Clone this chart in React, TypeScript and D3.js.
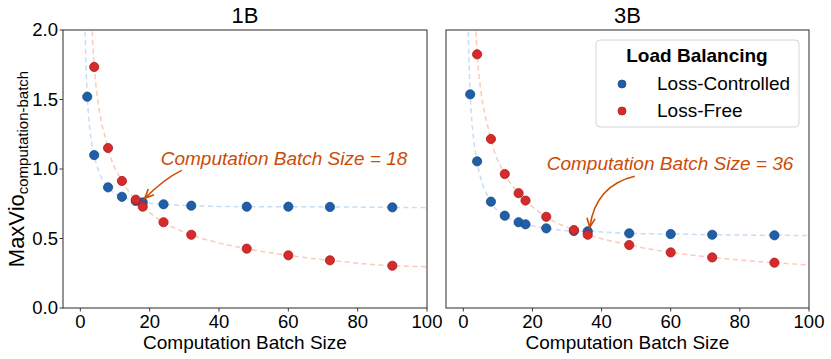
import React from "react";
import * as d3 from "d3";

const batchSizes1B = [2, 4, 8, 12, 16, 18, 24, 32, 48, 60, 72, 90];
const controlled1B = [1.52, 1.10, 0.868, 0.80, 0.77, 0.76, 0.746, 0.736, 0.729, 0.729, 0.727, 0.724];
const freeX1B = [4, 8, 12, 16, 18, 24, 32, 48, 60, 72, 90];
const free1B = [1.734, 1.151, 0.914, 0.779, 0.729, 0.617, 0.527, 0.427, 0.379, 0.343, 0.304];

const batchSizes3B = [2, 4, 8, 12, 16, 18, 24, 32, 36, 48, 60, 72, 90];
const controlled3B = [1.537, 1.055, 0.765, 0.664, 0.617, 0.602, 0.573, 0.554, 0.552, 0.537, 0.532, 0.527, 0.523];
const freeX3B = [4, 8, 12, 16, 18, 24, 32, 36, 48, 60, 72, 90];
const free3B = [1.825, 1.216, 0.964, 0.826, 0.773, 0.656, 0.561, 0.527, 0.453, 0.400, 0.364, 0.326];

// dashed fit-curve ends (where the curves leave the frame)
const fitEnds1B = { cStart: [1.3, 2.05], cEnd: [100, 0.722], fStart: [3.3, 2.05], fEnd: [100, 0.297] };
const fitEnds3B = { cStart: [1.4, 2.05], cEnd: [100, 0.522], fStart: [3.6, 2.05], fEnd: [100, 0.31] };

const xTicks = [0, 20, 40, 60, 80, 100];
const yTicks = [0, 0.5, 1.0, 1.5, 2.0];
const titles = ["1B", "3B"];
const annotations = [18, 36];

const BLUE = "#1f5fa8";
const BLUE_EDGE = "#164b87";
const RED = "#d62a2b";
const RED_EDGE = "#a81e20";
const BLUE_FIT = "#c5def3";
const RED_FIT = "#fcc9bb";
const ANNO = "#cc4c06";
const FONT = "'Liberation Sans', Arial, Helvetica, sans-serif";

const TOP = 30;
const BOTTOM = 308;

type Panel = {
  title: string;
  x0: number;
  x1: number;
  cx: number[];
  cy: number[];
  fx: number[];
  fy: number[];
  ends: typeof fitEnds1B;
  anno: number;
  showY: boolean;
  idx: number;
};

function PanelView({ p }: { p: Panel }) {
  const x = d3.scaleLinear().domain([-5, 100]).range([p.x0, p.x1]);
  const y = d3.scaleLinear().domain([0, 2]).range([BOTTOM, TOP]);
  const line = d3
    .line<[number, number]>()
    .x((d) => x(d[0]))
    .y((d) => y(d[1]))
    .curve(d3.curveMonotoneX);
  const cPts: [number, number][] = [
    p.ends.cStart as [number, number],
    ...p.cx.map((v, i) => [v, p.cy[i]] as [number, number]),
    p.ends.cEnd as [number, number],
  ];
  const fPts: [number, number][] = [
    p.ends.fStart as [number, number],
    ...p.fx.map((v, i) => [v, p.fy[i]] as [number, number]),
    p.ends.fEnd as [number, number],
  ];
  const clipId = `clip${p.idx}`;
  const cxm = (p.x0 + p.x1) / 2;

  // annotation geometry
  const ai = p.cx.indexOf(p.anno);
  const tipX = x(p.anno) + 2;
  const tipY = y(p.cy[ai]) - 4;
  let startX: number, startY: number, ctrlX: number, ctrlY: number, textX: number, textY: number;
  if (p.idx === 0) {
    startX = tipX + 37;
    startY = tipY - 28;
    ctrlX = tipX + 20;
    ctrlY = tipY - 20;
    textX = x(p.anno) + 18;
    textY = 165;
  } else {
    startX = tipX + 45;
    startY = tipY - 51;
    ctrlX = tipX + 6;
    ctrlY = tipY - 42;
    textX = x(p.anno) - 41;
    textY = 170;
  }
  // arrow head direction
  const ang = Math.atan2(tipY - ctrlY, tipX - ctrlX);
  const hl = 10;
  const ha = 0.42;
  const h1 = [tipX - hl * Math.cos(ang - ha), tipY - hl * Math.sin(ang - ha)];
  const h2 = [tipX - hl * Math.cos(ang + ha), tipY - hl * Math.sin(ang + ha)];

  return (
    <g>
      <defs>
        <clipPath id={clipId}>
          <rect x={p.x0} y={TOP} width={p.x1 - p.x0} height={BOTTOM - TOP} />
        </clipPath>
      </defs>
      <g clipPath={`url(#${clipId})`}>
        <path d={line(cPts) || ""} fill="none" stroke={BLUE_FIT} strokeWidth={1.5} strokeDasharray="5,3.5" />
        <path d={line(fPts) || ""} fill="none" stroke={RED_FIT} strokeWidth={1.5} strokeDasharray="5,3.5" />
        {p.cx.map((v, i) => (
          <circle key={"c" + i} cx={x(v)} cy={y(p.cy[i])} r={4.6} fill={BLUE} stroke={BLUE_EDGE} strokeWidth={0.8} />
        ))}
        {p.fx.map((v, i) => (
          <circle key={"f" + i} cx={x(v)} cy={y(p.fy[i])} r={4.6} fill={RED} stroke={RED_EDGE} strokeWidth={0.8} />
        ))}
      </g>
      {/* frame */}
      <rect x={p.x0} y={TOP} width={p.x1 - p.x0} height={BOTTOM - TOP} fill="none" stroke="#3c3c3c" strokeWidth={1.1} />
      {/* x ticks */}
      {xTicks.map((t) => (
        <g key={"xt" + t}>
          <line x1={x(t)} x2={x(t)} y1={BOTTOM} y2={BOTTOM + 3.5} stroke="#3c3c3c" strokeWidth={1} />
          <text x={x(t)} y={328} textAnchor="middle" fontSize={18.5} fontFamily={FONT} fill="#000">
            {t}
          </text>
        </g>
      ))}
      {p.showY &&
        yTicks.map((t) => (
          <g key={"yt" + t}>
            <line x1={p.x0 - 3.5} x2={p.x0} y1={y(t)} y2={y(t)} stroke="#3c3c3c" strokeWidth={1} />
            <text x={p.x0 - 5} y={y(t)} dy="0.35em" textAnchor="end" fontSize={18.5} fontFamily={FONT} fill="#000">
              {t.toFixed(1)}
            </text>
          </g>
        ))}
      <text x={cxm} y={22.5} textAnchor="middle" fontSize={22} fontFamily={FONT} fill="#000">
        {p.title}
      </text>
      <text x={cxm} y={348.5} textAnchor="middle" fontSize={19} fontFamily={FONT} fill="#000">
        Computation Batch Size
      </text>
      {/* annotation */}
      <text x={textX} y={textY} fontSize={19} fontStyle="italic" fontFamily={FONT} fill={ANNO}>
        {`Computation Batch Size = ${p.anno}`}
      </text>
      <path d={`M${startX},${startY} Q${ctrlX},${ctrlY} ${tipX},${tipY}`} fill="none" stroke={ANNO} strokeWidth={1.6} />
      <path d={`M${h1[0]},${h1[1]} L${tipX},${tipY} L${h2[0]},${h2[1]}`} fill="none" stroke={ANNO} strokeWidth={1.6} />
    </g>
  );
}

export default function App() {
  const panels: Panel[] = [
    { title: titles[0], x0: 63, x1: 427, cx: batchSizes1B, cy: controlled1B, fx: freeX1B, fy: free1B, ends: fitEnds1B, anno: annotations[0], showY: true, idx: 0 },
    { title: titles[1], x0: 446, x1: 809, cx: batchSizes3B, cy: controlled3B, fx: freeX3B, fy: free3B, ends: fitEnds3B, anno: annotations[1], showY: false, idx: 1 },
  ];
  const yMid = (TOP + BOTTOM) / 2;
  return (
    <svg width={831} height={359} style={{ position: "absolute", left: 0, top: 0, background: "#fff" }}>
      <rect width={831} height={359} fill="#fff" />
      {panels.map((p) => (
        <PanelView key={p.idx} p={p} />
      ))}
      {/* y label */}
      <text transform={`translate(24,${yMid}) rotate(-90)`} textAnchor="middle" fontFamily={FONT} fill="#000">
        <tspan fontSize={22}>MaxVio</tspan>
        <tspan fontSize={15} dy={4}>computation-batch</tspan>
      </text>
      {/* legend */}
      <g>
        <rect x={596} y={40} width={203} height={87} rx={4} fill="#fff" fillOpacity={0.85} stroke="#d6d6d6" strokeWidth={1} />
        <text x={697} y={62} textAnchor="middle" fontSize={19} fontWeight="bold" fontFamily={FONT} fill="#000">
          Load Balancing
        </text>
        <circle cx={622} cy={84} r={4} fill={BLUE} stroke={BLUE_EDGE} strokeWidth={0.8} />
        <text x={657} y={89.5} fontSize={19} fontFamily={FONT} fill="#000">
          Loss-Controlled
        </text>
        <circle cx={622} cy={111} r={4} fill={RED} stroke={RED_EDGE} strokeWidth={0.8} />
        <text x={657} y={116.5} fontSize={19} fontFamily={FONT} fill="#000">
          Loss-Free
        </text>
      </g>
    </svg>
  );
}
